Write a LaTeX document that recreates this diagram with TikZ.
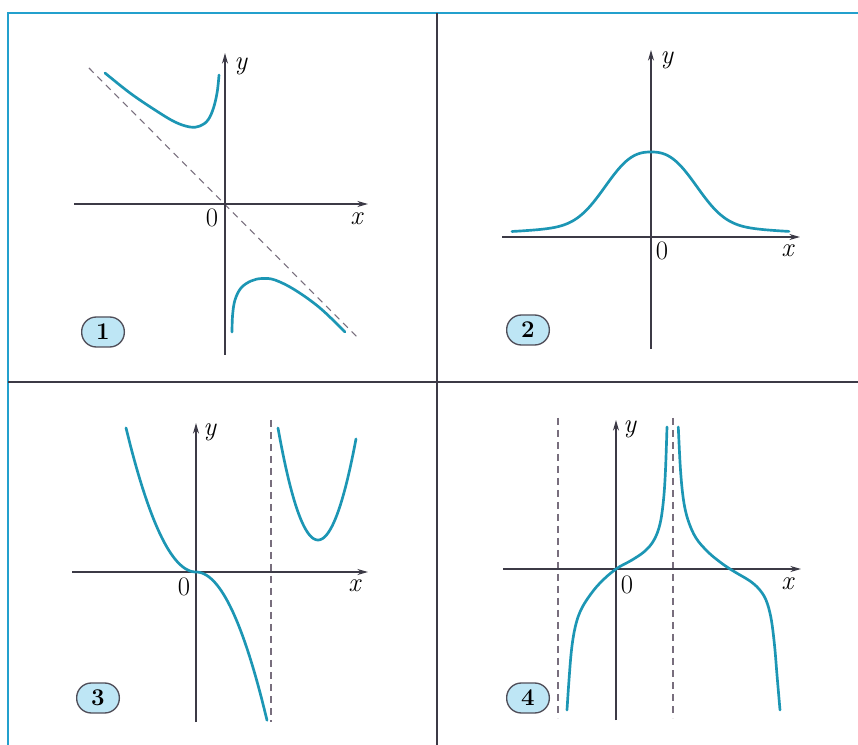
\documentclass[tikz,border=0pt]{standalone}
\usepackage{fontspec}
\usetikzlibrary{arrows.meta}
\definecolor{curvec}{RGB}{28,150,180}
\definecolor{framec}{RGB}{35,160,205}
\definecolor{badgefill}{RGB}{190,230,245}
\definecolor{axisc}{RGB}{60,58,70}
\definecolor{dashc}{RGB}{120,110,125}
\tikzset{
  axis/.style={draw=axisc, line width=0.9pt, -{Stealth[length=8pt,width=4.5pt]}},
  curve/.style={draw=curvec, line width=2pt, line cap=round},
  asym/.style={draw=dashc, line width=0.8pt, dash pattern=on 5pt off 4pt},
  badge/.style={draw=axisc!90, fill=badgefill, line width=1pt, rounded corners=11pt,
    minimum width=32pt, minimum height=22.5pt, inner sep=0pt, font=\fontsize{18}{20}\selectfont\bfseries},
  lab/.style={inner sep=0pt, font=\fontsize{20}{23}\selectfont}
}
\begin{document}
\begin{tikzpicture}[x=0.75pt,y=-0.75pt]
\useasboundingbox (0,0) rectangle (858,745);
\fill[white] (0,0) rectangle (858,745);
% frame
\draw[framec, line width=2pt] (8,745) -- (8,13) -- (858,13);
\draw[axisc, line width=0.9pt] (8,382) -- (858,382);
\draw[axisc, line width=0.8pt] (437,13) -- (437,745);

% ---------- panel 1
\draw[asym] (89,68) -- (357,337);
\draw[axis] (74,204) -- (368,204);
\draw[axis] (225,355) -- (225,53);
\node[lab] (y1) at (241,66) {\textit{y}};
\node[lab] (x1) at (357,219) {\textit{x}};
\node[lab] (o1) at (212,218) {0};
\draw[curve] plot[smooth, tension=0.6] coordinates {(105,73) (130,93) (155,110) (175,122) (190,127) (200,126) (208,120) (213.5,108) (217.2,92) (219,75)};
\draw[curve] plot[smooth, tension=0.6] coordinates {(232,332) (232.6,315) (235,300) (241,288) (251,281) (262,278.5) (275,280) (295,290) (320,308) (345,332)};
\node[badge] (b1) at (103,332) {1};

% ---------- panel 2
\draw[axis] (502,237) -- (800,237);
\draw[axis] (651,349) -- (651,50);
\node[lab] (y2) at (667,60) {\textit{y}};
\node[lab] (x2) at (788,251) {\textit{x}};
\node[lab] (o2) at (662,251) {0};
\draw[curve] plot[domain=-139:138, samples=120] ({651+\x},{237-85*(0.78*exp(-(abs(\x)/55)^2.6)+0.22/(1+(\x/90)^2))});
\node[badge] (b2) at (528,330) {2};

% ---------- panel 3
\draw[asym] (271,420) -- (271,722);
\draw[axis] (72,572) -- (368,572);
\draw[axis] (196,722) -- (196,423);
\node[lab] (y3) at (210,432) {\textit{y}};
\node[lab] (x3) at (355,586) {\textit{x}};
\node[lab] (o3) at (184,587) {0};
\draw[curve] plot[domain=-70:71, samples=100] ({196+\x},{572+\x*abs(\x)/34});
\draw[curve] plot[domain=-40:38, samples=80] ({318+\x},{540-0.07*\x*\x});
\node[badge] (b3) at (98,698) {3};

% ---------- panel 4
\draw[asym] (558,418) -- (558,718);
\draw[asym] (673,418) -- (673,718);
\draw[axis] (503,569) -- (801,569);
\draw[axis] (616,720) -- (616,420);
\node[lab] (y4) at (630,429) {\textit{y}};
\node[lab] (x4) at (788,584) {\textit{x}};
\node[lab] (o4) at (627,585) {0};
\draw[curve] plot[smooth, tension=0.6] coordinates {(567,710) (569,680) (571.5,650) (575,628) (580,612) (588,598) (600,583) (616,569) (632,560) (645,551) (654,540) (660,524) (663.5,500) (665.5,470) (667,427)};
\draw[curve] plot[smooth, tension=0.6] coordinates {(678.3,427) (680.5,470) (683.5,500) (688,520) (696,538) (708,552) (720,562) (730,569) (740,575) (750,581) (759,589) (766,600) (771,618) (774.5,645) (777,675) (780,710)};
\node[badge] (b4) at (528,698) {4};
\end{tikzpicture}
\end{document}
